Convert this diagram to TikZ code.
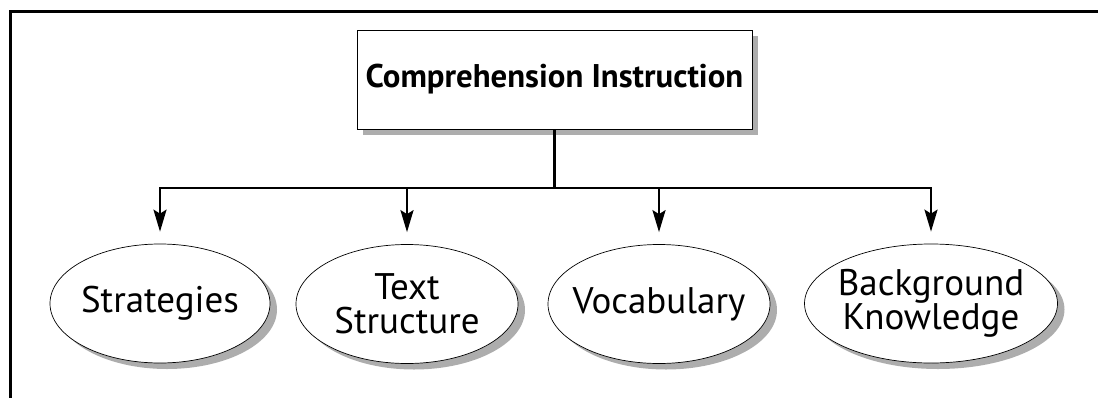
\documentclass[tikz,border=0pt]{standalone}
\usepackage{fontspec}
\setmainfont{PT Sans}
\usetikzlibrary{shapes.geometric,shadows,arrows.meta}

\tikzset{
  frameline/.style={line width=3pt, line cap=rect},
  titlebox/.style={draw, line width=1pt, fill=white, rectangle,
    minimum width=395pt, minimum height=99pt, inner sep=0pt,
    font=\fontsize{32.8}{36}\selectfont\bfseries,
    drop shadow={shadow xshift=6pt, shadow yshift=-6pt, fill=black!32, opacity=1}},
  topic/.style={draw, line width=0.7pt, fill=white, ellipse,
    inner xsep=-40pt, inner ysep=0pt,
    minimum height=119pt, align=center,
    font=\fontsize{37}{34}\selectfont,
    drop shadow={shadow xshift=7pt, shadow yshift=-6pt, fill=black!32, opacity=1}},
  branch/.style={line width=2.5pt},
  feed/.style={line width=2.5pt, shorten >=12pt,
    -{Stealth[length=22pt, width=13pt, inset=4pt]}}
}

\begin{document}
\begin{tikzpicture}[x=1pt, y=-1pt]
  \useasboundingbox (0,0) rectangle (1098,397);

  % open frame: top and left edges only
  \draw[frameline] (1098,11) -- (10,11) -- (10,397);

  % root of the hierarchy
  \node[titlebox] (top) at (554.5,79.5) {Comprehension Instruction};

  % the four components
  \node[topic, minimum width=220pt] (s1) at (160,303.5) {Strategies};
  \node[topic, minimum width=222pt] (s2) at (407,304) {Text\\Structure};
  \node[topic, minimum width=222pt] (s3) at (659,304) {Vocabulary};
  \node[topic, minimum width=253pt] (s4) at (931,303.5) {Background\\Knowledge};

  % branching connectors
  \coordinate (hub) at (top.south |- 0,188);
  \draw[branch] (top.south) -- (hub);
  \draw[feed] (hub) -| (s1.north);
  \draw[feed] (hub) -| (s2.north);
  \draw[feed] (hub) -| (s3.north);
  \draw[feed] (hub) -| (s4.north);
\end{tikzpicture}
\end{document}
